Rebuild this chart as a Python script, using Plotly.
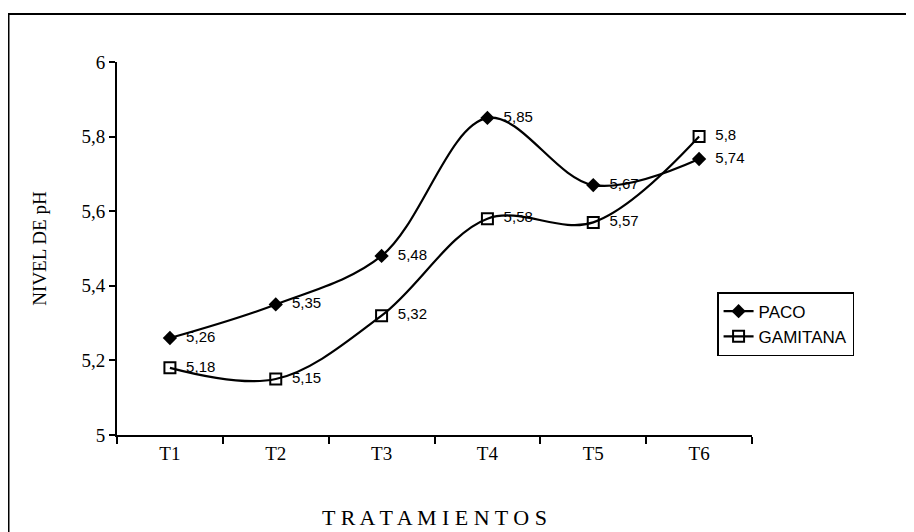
import plotly.graph_objects as go

categories = ["T1", "T2", "T3", "T4", "T5", "T6"]
paco = [5.26, 5.35, 5.48, 5.85, 5.67, 5.74]
gamitana = [5.18, 5.15, 5.32, 5.58, 5.57, 5.8]
y_ticks = [5, 5.2, 5.4, 5.6, 5.8, 6]
y_tick_labels = ["5", "5,2", "5,4", "5,6", "5,8", "6"]

def fmt(v):
    return "\u00a0\u00a0" + ("%g" % v).replace(".", ",")

label_font = dict(family="Liberation Sans, Arial", size=15, color="black")

fig = go.Figure()
fig.add_trace(go.Scatter(
    x=categories, y=paco, name="PACO", mode="lines+markers+text",
    line=dict(color="black", width=2.2, shape="spline", smoothing=1.0),
    marker=dict(symbol="diamond", size=11, color="black"),
    text=[fmt(v) for v in paco], textposition="middle right",
    textfont=label_font,
))
fig.add_trace(go.Scatter(
    x=categories, y=gamitana, name="GAMITANA", mode="lines+markers+text",
    line=dict(color="black", width=2.2, shape="spline", smoothing=1.0),
    marker=dict(symbol="square-open", size=11, color="black", line=dict(width=2)),
    text=[fmt(v) for v in gamitana], textposition="middle right",
    textfont=label_font,
))

serif = "Liberation Serif, Times New Roman"

fig.update_layout(
    width=914, height=532,
    margin=dict(l=109, r=170, t=54, b=105),
    paper_bgcolor="white", plot_bgcolor="white",
    showlegend=True,
    legend=dict(
        x=0.945, y=0.383, xanchor="left", yanchor="top",
        bordercolor="black", borderwidth=1.5, bgcolor="white",
        font=dict(family="Liberation Sans, Arial", size=17, color="black"),
        tracegroupgap=0, itemwidth=30,
    ),
    xaxis=dict(
        type="category", range=[-0.5, 5.5], tickson="boundaries",
        showline=True, linecolor="black", linewidth=2,
        ticks="outside", ticklen=7, tickcolor="black", tickwidth=1.5,
        showgrid=False, zeroline=False,
        tickfont=dict(family=serif, size=19, color="black"),
        title=dict(text="T R A T A M I E N T O S", standoff=47,
                   font=dict(family=serif, size=22, color="black")),
    ),
    yaxis=dict(
        range=[5, 6], tickvals=y_ticks, ticktext=y_tick_labels,
        showline=True, linecolor="black", linewidth=2,
        ticks="outside", ticklen=6, tickcolor="black", tickwidth=1.5,
        showgrid=False, zeroline=False,
        tickfont=dict(family=serif, size=19, color="black"),
        title=dict(text="NIVEL DE pH", standoff=30,
                   font=dict(family=serif, size=19, color="black")),
    ),
)

fig.add_shape(type="rect", xref="paper", yref="paper",
              x0=(0.5 - 109) / 635, x1=(940 - 109) / 635,
              y0=(427 - 560) / 373, y1=(427 - 6) / 373,
              line=dict(color="black", width=2), layer="below")

fig.write_html("out.html")
